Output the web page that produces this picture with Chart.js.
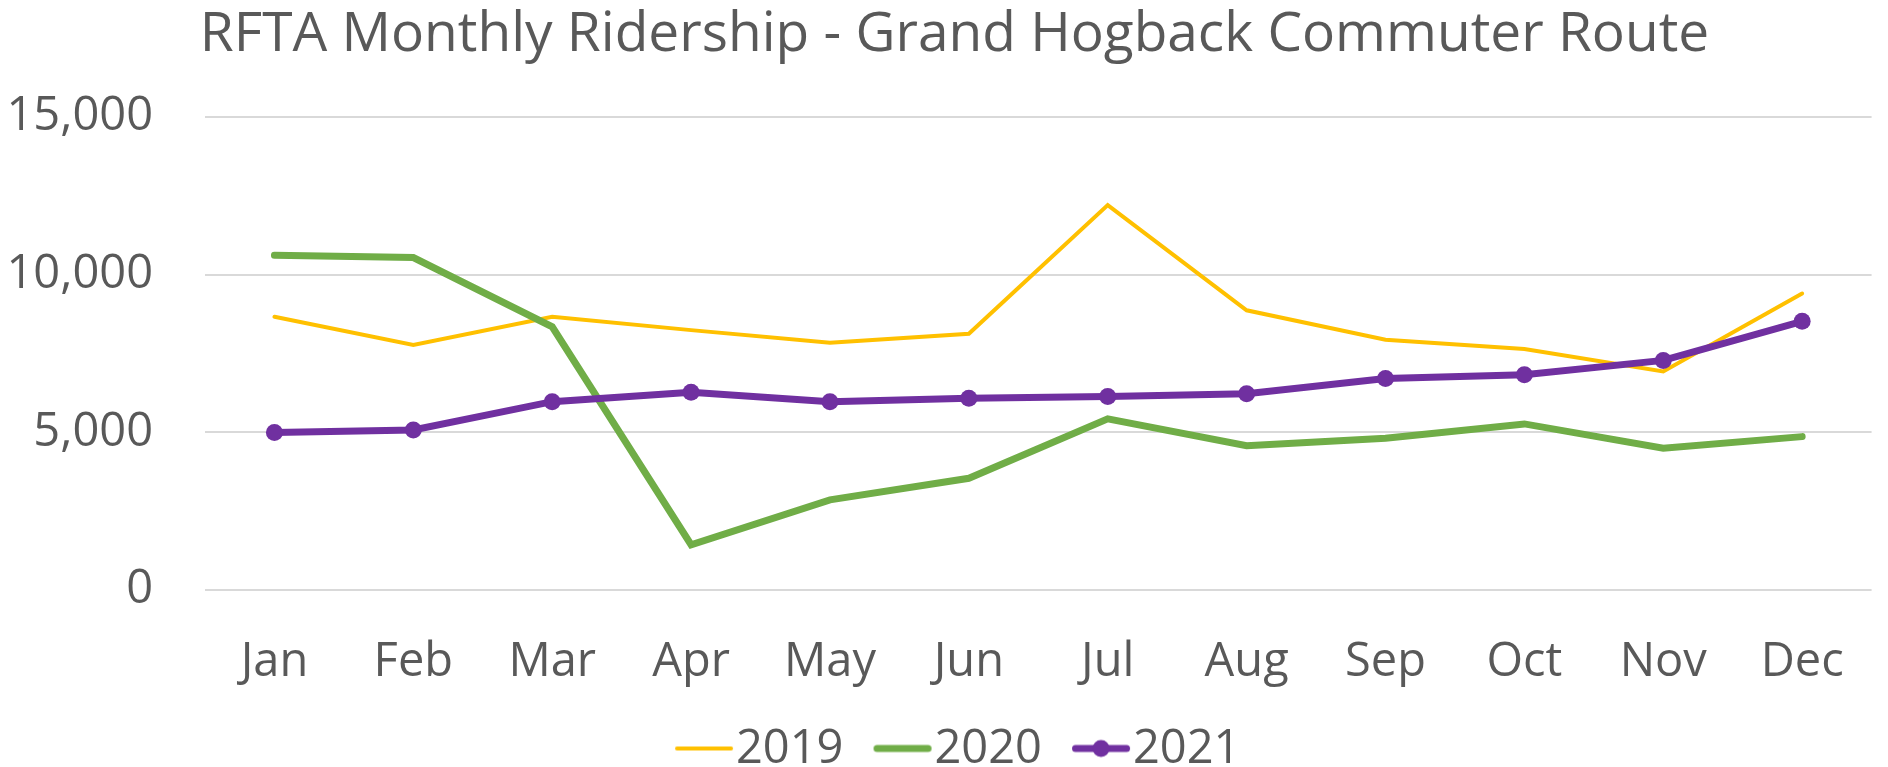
<!DOCTYPE html>
<html>
<head>
<meta charset="utf-8">
<script src="https://cdn.jsdelivr.net/npm/chart.js@4"></script>
<style>
  html, body { margin: 0; padding: 0; background: #ffffff; }
  #wrap { width: 1888px; height: 767px; position: relative; }
</style>
</head>
<body>
<div id="wrap"><canvas id="c" width="1888" height="767"></canvas></div>
<script>
// ---- data ----
const titleText = 'RFTA Monthly Ridership - Grand Hogback Commuter Route';
const months = ['Jan', 'Feb', 'Mar', 'Apr', 'May', 'Jun', 'Jul', 'Aug', 'Sep', 'Oct', 'Nov', 'Dec'];
const seriesNames = ['2019', '2020', '2021'];
const riders2019 = [8660, 7764, 8660, 8238, 7838, 8125, 12200, 8867, 7934, 7638, 6928, 9396];
const riders2020 = [10612, 10538, 8344, 1435, 2859, 3541, 5424, 4576, 4809, 5265, 4492, 4862];
const riders2021 = [4990, 5074, 5970, 6266, 5970, 6080, 6134, 6218, 6706, 6822, 7278, 8517];
const yTickValues = [0, 5000, 10000, 15000];

// ---- style ----
const TEXT = '#595959';
const FONT = "'Open Sans', 'DejaVu Sans', sans-serif";
const colors = ['#FFC000', '#70AD47', '#7030A0'];
const widths = [4, 7, 7];
const TICK_SIZE = 47;
const LEG_SIZE = 47;
const TITLE_SIZE = 55;

// layout targets (pixels)
const AREA_LEFT = 205;
const AREA_TOP = 116.8;
const AREA_BOTTOM = 590;
const LEG_BOTTOM = 783;
const TITLE_SHIFT = 21;
const TITLE_PAD_TOP = 2;

// legend geometry
const mctx = document.createElement('canvas').getContext('2d');
mctx.font = LEG_SIZE + 'px ' + FONT;
const T = mctx.measureText('2019').width;
const h = LEG_SIZE / 2, g = 3, L = 58, pitch = 198.5, firstLineStart = 675;
const S = pitch - h - T;
const boxW = 2 * (firstLineStart - h + g + L - (0 + S + 1888 - 3 * pitch) / 2);
const legPad = S - boxW;

function legendImage(color, w, dot) {
  const relStart = boxW + h - g - L - boxW / 2;
  const relEnd = boxW + h - g - boxW / 2;
  const half = Math.ceil(Math.max(Math.abs(relStart), Math.abs(relEnd))) + 6;
  const c = document.createElement('canvas');
  c.width = half * 2; c.height = 24;
  const x = c.getContext('2d');
  const cy = 11;
  x.strokeStyle = color; x.lineWidth = w; x.lineCap = 'round';
  x.beginPath(); x.moveTo(half + relStart + w / 2, cy); x.lineTo(half + relEnd - w / 2, cy); x.stroke();
  if (dot) { x.fillStyle = color; x.beginPath(); x.arc(half + (relStart + relEnd) / 2, cy, 8.5, 0, Math.PI * 2); x.fill(); }
  return c;
}
const legendImgs = [legendImage(colors[0], widths[0], false), legendImage(colors[1], widths[1], false), legendImage(colors[2], widths[2], true)];

const legendHeight = LEG_SIZE + legPad + 10;
const xAxisHeight = (LEG_BOTTOM - legendHeight) - AREA_BOTTOM;

const datasets = [riders2019, riders2020, riders2021].map((d, i) => ({
  label: seriesNames[i],
  data: d,
  borderColor: colors[i],
  backgroundColor: colors[i],
  borderWidth: widths[i],
  borderCapStyle: 'round',
  borderJoinStyle: 'miter',
  pointRadius: i === 2 ? 8.5 : 0,
  pointHoverRadius: i === 2 ? 8.5 : 0,
  pointBorderWidth: 0,
  pointBackgroundColor: colors[i],
  tension: 0,
  fill: false,
  order: 3 - i
}));

const shiftTitle = {
  id: 'shiftTitle',
  afterLayout(chart) {
    if (chart.titleBlock) { chart.titleBlock.left += TITLE_SHIFT; }
  }
};

new Chart(document.getElementById('c'), {
  type: 'line',
  data: { labels: months, datasets },
  plugins: [shiftTitle],
  options: {
    responsive: false,
    animation: false,
    events: [],
    layout: { padding: { left: 0, right: 0, top: 0, bottom: -(LEG_BOTTOM - 767) } },
    plugins: {
      title: {
        display: true,
        text: titleText,
        color: TEXT,
        font: { family: FONT, size: TITLE_SIZE, weight: 'normal', lineHeight: 1.2 },
        padding: { top: TITLE_PAD_TOP, bottom: AREA_TOP - TITLE_PAD_TOP - TITLE_SIZE * 1.2 }
      },
      legend: {
        display: true,
        position: 'bottom',
        labels: {
          color: TEXT,
          font: { family: FONT, size: LEG_SIZE },
          usePointStyle: true,
          pointStyleWidth: boxW,
          padding: legPad,
          sort: (a, b) => a.datasetIndex - b.datasetIndex,
          generateLabels: (chart) => {
            const items = Chart.defaults.plugins.legend.labels.generateLabels(chart);
            items.forEach(it => { it.pointStyle = legendImgs[it.datasetIndex]; it.lineWidth = 0; });
            return items;
          }
        }
      },
      tooltip: { enabled: false }
    },
    scales: {
      x: {
        offset: true,
        grid: { display: false, drawTicks: false },
        border: { display: false },
        ticks: { color: TEXT, font: { family: FONT, size: TICK_SIZE }, padding: 44, maxRotation: 0, autoSkip: false },
        afterFit: (s) => { s.height = xAxisHeight; }
      },
      y: {
        min: 0,
        max: 15000,
        grid: { color: '#D9D9D9', lineWidth: 2, drawTicks: false },
        border: { display: false },
        ticks: {
          color: TEXT,
          font: { family: FONT, size: TICK_SIZE },
          padding: 52,
          callback: (v) => Number(v).toLocaleString('en-US')
        },
        afterBuildTicks: (s) => { s.ticks = yTickValues.map(v => ({ value: v })); },
        afterFit: (s) => { s.width = AREA_LEFT; }
      }
    }
  }
});
</script>
</body>
</html>
